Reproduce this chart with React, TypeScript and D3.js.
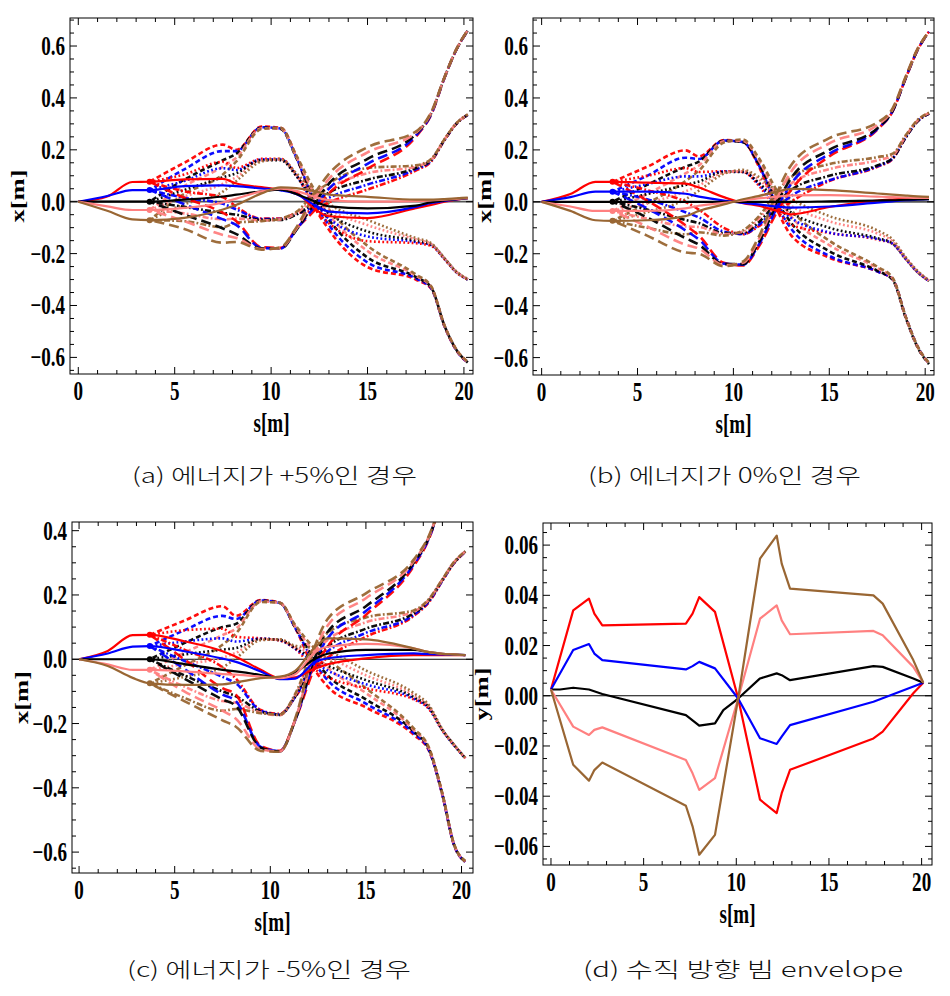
import React from 'react';
import * as d3 from 'd3';

// ---------- shared grids ----------
const S_SOLID = [0, 1.5, 2.8, 3.7, 5.5, 7.5, 8.2, 9.5, 10.5, 11.3, 12.3, 13, 15, 17.5, 18.3, 19, 19.6, 20.2];
const S_RAY = [3.7, 5.5, 7.5, 8.2, 9.5, 10.5, 11.3, 12.3, 13, 15, 17.5, 18.3, 19, 19.6, 20.2];
const COLOR_NAMES = ['red', 'blue', 'black', 'pink', 'brown'];
const COLOR_HEX = ['#ff0000', '#0000ff', '#000000', '#ff8080', '#996633'];

// ---------- panel (a): energy +5% ----------
const aSolid = [
  [0, 0.02, 0.076, 0.077, 0.086, 0.088, 0.07, 0.056, 0.046, 0.035, -0.03, -0.056, -0.063, -0.025, -0.012, 0.0, 0.008, 0.014],
  [0, 0.022, 0.045, 0.045, 0.06, 0.063, 0.06, 0.051, 0.044, 0.03, -0.015, -0.038, -0.045, -0.02, -0.005, 0.003, 0.009, 0.014],
  [0, 0, 0, 0, 0.008, 0.02, 0.027, 0.04, 0.046, 0.03, 0.0, -0.018, -0.026, -0.015, -0.002, 0.005, 0.01, 0.014],
  [0, -0.018, -0.032, -0.032, -0.024, -0.003, 0.012, 0.04, 0.05, 0.042, 0.018, 0.006, 0.0, 0.002, 0.005, 0.008, 0.011, 0.014],
  [0, -0.035, -0.068, -0.071, -0.062, -0.03, -0.012, 0.032, 0.055, 0.052, 0.04, 0.027, 0.019, 0.008, 0.008, 0.01, 0.013, 0.016],
];
const aRay1 = [
  [0.077, 0.15, 0.22, 0.2, 0.29, 0.285, 0.175, -0.025, -0.108, -0.252, -0.3, -0.335, -0.482, -0.572, -0.62],
  [0.045, 0.125, 0.195, 0.195, 0.287, 0.282, 0.172, -0.01, -0.09, -0.234, -0.295, -0.333, -0.481, -0.571, -0.62],
  [0, 0.085, 0.16, 0.185, 0.285, 0.28, 0.17, 0.005, -0.07, -0.215, -0.29, -0.33, -0.48, -0.57, -0.62],
  [-0.032, 0.06, 0.135, 0.17, 0.283, 0.282, 0.175, 0.022, -0.05, -0.19, -0.285, -0.328, -0.479, -0.569, -0.618],
  [-0.071, 0.03, 0.105, 0.155, 0.28, 0.285, 0.18, 0.04, -0.03, -0.17, -0.28, -0.326, -0.478, -0.568, -0.617],
];
const aRay2 = [
  [0.077, 0.105, 0.154, 0.13, 0.165, 0.165, 0.105, -0.03, -0.083, -0.152, -0.16, -0.17, -0.222, -0.272, -0.3],
  [0.045, 0.08, 0.129, 0.122, 0.163, 0.163, 0.102, -0.015, -0.065, -0.134, -0.155, -0.167, -0.221, -0.271, -0.3],
  [0, 0.045, 0.094, 0.11, 0.16, 0.16, 0.1, 0.0, -0.045, -0.115, -0.15, -0.165, -0.22, -0.27, -0.3],
  [-0.032, 0.02, 0.069, 0.095, 0.158, 0.162, 0.105, 0.018, -0.027, -0.09, -0.145, -0.163, -0.219, -0.269, -0.299],
  [-0.071, -0.01, 0.039, 0.08, 0.155, 0.165, 0.11, 0.036, -0.008, -0.07, -0.14, -0.16, -0.218, -0.268, -0.298],
];
const aRay3 = [
  [0.077, 0.04, 0.017, -0.02, -0.065, -0.065, -0.045, -0.03, -0.003, 0.047, 0.12, 0.155, 0.238, 0.299, 0.335],
  [0.045, 0.015, -0.008, -0.03, -0.067, -0.067, -0.048, -0.015, 0.015, 0.066, 0.125, 0.158, 0.239, 0.3, 0.335],
  [0, -0.02, -0.043, -0.05, -0.07, -0.07, -0.05, 0.0, 0.035, 0.085, 0.13, 0.16, 0.24, 0.3, 0.335],
  [-0.032, -0.045, -0.068, -0.065, -0.072, -0.068, -0.045, 0.018, 0.053, 0.11, 0.135, 0.162, 0.241, 0.301, 0.336],
  [-0.071, -0.075, -0.098, -0.08, -0.075, -0.065, -0.04, 0.036, 0.072, 0.13, 0.14, 0.165, 0.242, 0.302, 0.337],
];
const aRay4 = [
  [0.077, 0.015, -0.043, -0.075, -0.175, -0.178, -0.105, -0.03, 0.032, 0.127, 0.25, 0.335, 0.479, 0.585, 0.66],
  [0.045, -0.01, -0.068, -0.09, -0.178, -0.18, -0.108, -0.015, 0.05, 0.146, 0.255, 0.337, 0.48, 0.585, 0.66],
  [0, -0.05, -0.103, -0.125, -0.18, -0.18, -0.11, 0.0, 0.07, 0.165, 0.26, 0.34, 0.48, 0.585, 0.66],
  [-0.032, -0.075, -0.128, -0.14, -0.182, -0.178, -0.105, 0.018, 0.088, 0.19, 0.265, 0.342, 0.481, 0.586, 0.661],
  [-0.071, -0.105, -0.158, -0.155, -0.185, -0.175, -0.1, 0.036, 0.107, 0.21, 0.27, 0.345, 0.482, 0.587, 0.662],
];

// ---------- panel (b): energy 0% ----------
const bSolid = [
  [0, 0.03, 0.077, 0.077, 0.074, 0.07, 0.055, 0.018, -0.005, -0.015, -0.035, -0.048, -0.02, 0.005, 0.009, 0.012, 0.013, 0.014],
  [0, 0.018, 0.039, 0.039, 0.039, 0.031, 0.02, 0.005, -0.004, -0.01, -0.019, -0.022, -0.018, -0.003, 0.002, 0.006, 0.008, 0.01],
  [0, 0, 0, 0, 0, 0, 0, 0, 0, 0, 0, 0, 0.002, 0.005, 0.006, 0.008, 0.009, 0.01],
  [0, -0.018, -0.035, -0.035, -0.035, -0.025, -0.015, -0.004, 0.005, 0.013, 0.02, 0.025, 0.026, 0.02, 0.018, 0.016, 0.015, 0.015],
  [0, -0.035, -0.071, -0.073, -0.071, -0.055, -0.035, -0.01, 0.01, 0.022, 0.04, 0.05, 0.045, 0.032, 0.028, 0.024, 0.021, 0.019],
];
const bRay1 = [
  [0.077, 0.135, 0.198, 0.175, 0.238, 0.232, 0.14, -0.035, -0.128, -0.215, -0.268, -0.298, -0.447, -0.558, -0.623],
  [0.039, 0.1, 0.17, 0.165, 0.236, 0.23, 0.145, -0.019, -0.102, -0.208, -0.268, -0.298, -0.446, -0.557, -0.622],
  [0, 0.065, 0.135, 0.155, 0.235, 0.23, 0.15, 0.0, -0.08, -0.19, -0.265, -0.3, -0.45, -0.56, -0.625],
  [-0.035, 0.03, 0.11, 0.14, 0.233, 0.235, 0.163, 0.02, -0.055, -0.167, -0.255, -0.295, -0.447, -0.558, -0.622],
  [-0.073, -0.006, 0.08, 0.12, 0.228, 0.24, 0.172, 0.04, -0.03, -0.15, -0.25, -0.292, -0.445, -0.556, -0.62],
];
const bRay2 = [
  [0.077, 0.1, 0.13, 0.115, 0.118, 0.115, 0.065, -0.035, -0.088, -0.12, -0.145, -0.162, -0.222, -0.271, -0.305],
  [0.039, 0.068, 0.098, 0.098, 0.117, 0.115, 0.07, -0.019, -0.062, -0.118, -0.143, -0.161, -0.221, -0.27, -0.305],
  [0, 0.03, 0.065, 0.078, 0.115, 0.115, 0.075, 0.0, -0.04, -0.1, -0.14, -0.16, -0.22, -0.27, -0.305],
  [-0.035, -0.005, 0.04, 0.063, 0.112, 0.118, 0.088, 0.02, -0.015, -0.075, -0.122, -0.152, -0.218, -0.268, -0.303],
  [-0.073, -0.04, 0.01, 0.043, 0.108, 0.123, 0.097, 0.04, 0.01, -0.055, -0.11, -0.145, -0.215, -0.266, -0.302],
];
const bRay3 = [
  [0.077, 0.045, 0.0, -0.03, -0.1, -0.125, -0.095, -0.035, 0.0, 0.08, 0.135, 0.165, 0.25, 0.31, 0.34],
  [0.039, 0.01, -0.04, -0.06, -0.115, -0.124, -0.09, -0.019, 0.022, 0.083, 0.137, 0.167, 0.25, 0.31, 0.34],
  [0, -0.03, -0.07, -0.082, -0.12, -0.12, -0.08, 0.0, 0.045, 0.1, 0.14, 0.168, 0.25, 0.31, 0.34],
  [-0.035, -0.065, -0.095, -0.097, -0.124, -0.115, -0.067, 0.02, 0.07, 0.126, 0.16, 0.178, 0.255, 0.313, 0.342],
  [-0.073, -0.1, -0.125, -0.117, -0.13, -0.11, -0.058, 0.04, 0.095, 0.145, 0.172, 0.185, 0.258, 0.315, 0.343],
];
const bRay4 = [
  [0.077, 0.005, -0.09, -0.13, -0.235, -0.245, -0.175, -0.035, 0.045, 0.175, 0.278, 0.348, 0.479, 0.584, 0.655],
  [0.039, -0.025, -0.11, -0.145, -0.238, -0.242, -0.168, -0.019, 0.068, 0.185, 0.28, 0.349, 0.48, 0.585, 0.655],
  [0, -0.06, -0.14, -0.165, -0.24, -0.24, -0.16, 0.0, 0.09, 0.2, 0.283, 0.35, 0.48, 0.585, 0.655],
  [-0.035, -0.095, -0.165, -0.18, -0.244, -0.235, -0.147, 0.02, 0.115, 0.225, 0.295, 0.356, 0.483, 0.587, 0.656],
  [-0.073, -0.13, -0.195, -0.2, -0.248, -0.23, -0.138, 0.04, 0.14, 0.245, 0.305, 0.36, 0.486, 0.589, 0.657],
];

// ---------- panel (c): energy -5% ----------
const cSolid = [
  [0, 0.026, 0.075, 0.076, 0.056, 0.025, 0.008, -0.033, -0.059, -0.056, -0.03, -0.016, 0.003, 0.013, 0.013, 0.013, 0.013, 0.013],
  [0, 0.018, 0.039, 0.041, 0.025, 0.002, -0.008, -0.038, -0.062, -0.06, -0.01, 0.003, 0.013, 0.018, 0.016, 0.015, 0.014, 0.013],
  [0, 0, 0, 0, -0.015, -0.033, -0.038, -0.049, -0.059, -0.042, 0.0, 0.017, 0.029, 0.029, 0.022, 0.017, 0.015, 0.013],
  [0, -0.016, -0.033, -0.033, -0.038, -0.046, -0.048, -0.054, -0.059, -0.047, 0.02, 0.039, 0.048, 0.034, 0.022, 0.017, 0.015, 0.013],
  [0, -0.021, -0.058, -0.075, -0.08, -0.078, -0.072, -0.059, -0.054, -0.036, 0.035, 0.065, 0.062, 0.034, 0.022, 0.017, 0.015, 0.013],
];
const cRay1 = [
  [0.076, 0.12, 0.165, 0.135, 0.184, 0.176, 0.098, -0.03, -0.085, -0.15, -0.235, -0.285, -0.423, -0.577, -0.63],
  [0.041, 0.09, 0.135, 0.125, 0.183, 0.175, 0.098, -0.01, -0.065, -0.138, -0.23, -0.283, -0.422, -0.576, -0.63],
  [0, 0.05, 0.1, 0.11, 0.182, 0.175, 0.1, 0.0, -0.05, -0.125, -0.225, -0.28, -0.42, -0.575, -0.63],
  [-0.033, 0.02, 0.075, 0.095, 0.18, 0.175, 0.103, 0.02, -0.025, -0.105, -0.22, -0.278, -0.419, -0.574, -0.629],
  [-0.075, -0.02, 0.045, 0.08, 0.178, 0.176, 0.107, 0.035, 0.0, -0.09, -0.215, -0.275, -0.418, -0.573, -0.628],
];
const cRay2 = [
  [0.076, 0.09, 0.095, 0.07, 0.065, 0.058, 0.033, -0.03, -0.055, -0.09, -0.125, -0.155, -0.222, -0.267, -0.308],
  [0.041, 0.055, 0.065, 0.055, 0.064, 0.059, 0.033, -0.01, -0.035, -0.078, -0.122, -0.153, -0.221, -0.267, -0.308],
  [0, 0.015, 0.03, 0.035, 0.063, 0.06, 0.035, 0.0, -0.02, -0.065, -0.118, -0.15, -0.22, -0.266, -0.308],
  [-0.033, -0.015, 0.005, 0.02, 0.061, 0.061, 0.038, 0.02, 0.005, -0.05, -0.112, -0.147, -0.219, -0.265, -0.307],
  [-0.075, -0.055, -0.025, 0.003, 0.059, 0.062, 0.042, 0.035, 0.025, -0.035, -0.105, -0.143, -0.218, -0.265, -0.307],
];
const cRay3 = [
  [0.076, 0.03, -0.025, -0.06, -0.158, -0.17, -0.118, -0.03, 0.005, 0.07, 0.135, 0.178, 0.244, 0.298, 0.334],
  [0.041, -0.005, -0.055, -0.075, -0.16, -0.172, -0.117, -0.01, 0.025, 0.082, 0.138, 0.18, 0.245, 0.299, 0.334],
  [0, -0.05, -0.1, -0.115, -0.163, -0.173, -0.116, 0.0, 0.04, 0.095, 0.143, 0.184, 0.247, 0.3, 0.335],
  [-0.033, -0.085, -0.13, -0.135, -0.166, -0.174, -0.112, 0.02, 0.06, 0.115, 0.148, 0.186, 0.248, 0.301, 0.336],
  [-0.075, -0.12, -0.16, -0.155, -0.168, -0.172, -0.108, 0.035, 0.082, 0.13, 0.152, 0.188, 0.249, 0.302, 0.336],
];
const cRay4 = [
  [0.076, 0.0, -0.09, -0.11, -0.27, -0.285, -0.19, -0.03, 0.04, 0.138, 0.29, 0.375, 0.5, 0.6, 0.66],
  [0.041, -0.03, -0.11, -0.13, -0.273, -0.286, -0.19, -0.01, 0.065, 0.15, 0.295, 0.377, 0.5, 0.6, 0.66],
  [0, -0.06, -0.125, -0.145, -0.275, -0.287, -0.19, 0.0, 0.085, 0.165, 0.3, 0.38, 0.5, 0.6, 0.66],
  [-0.033, -0.1, -0.16, -0.185, -0.28, -0.287, -0.188, 0.02, 0.105, 0.19, 0.305, 0.382, 0.5, 0.6, 0.66],
  [-0.075, -0.13, -0.19, -0.21, -0.285, -0.288, -0.185, 0.035, 0.125, 0.205, 0.31, 0.385, 0.5, 0.6, 0.66],
];

// ---------- panel (d): vertical beam envelope [s, y] ----------
const dRed = [[0, 0.0025], [1.2, 0.034], [2.05, 0.0387], [2.34, 0.0327], [2.77, 0.028], [7.28, 0.0287], [7.64, 0.0327], [8.0, 0.0393], [8.85, 0.0334], [10.1, -0.001], [11.28, -0.0414], [12.18, -0.0467], [12.45, -0.0388], [12.9, -0.0295], [17.4, -0.017], [17.9, -0.0143], [19.55, 0.001], [20.09, 0.0052]];
const dBlue = [[0, 0.0025], [1.2, 0.0182], [2.05, 0.0206], [2.34, 0.0168], [2.77, 0.0142], [7.28, 0.0105], [7.64, 0.0118], [8.0, 0.0135], [8.85, 0.0109], [10.1, -0.0011], [11.28, -0.0169], [12.18, -0.0192], [12.45, -0.0163], [12.9, -0.0117], [17.4, -0.0024], [20.09, 0.0052]];
const dBlack = [[0, 0.0025], [0.49, 0.0025], [1.2, 0.0032], [2.05, 0.0025], [2.77, 0.0007], [7.28, -0.0077], [8.0, -0.0119], [8.85, -0.011], [9.3, -0.0057], [10.1, -0.0011], [11.28, 0.0069], [12.18, 0.0089], [12.45, 0.0082], [12.9, 0.0062], [17.4, 0.0118], [17.9, 0.0115], [19.55, 0.0069], [20.09, 0.0052]];
const dPink = [[0, 0.0025], [1.2, -0.0123], [2.05, -0.0156], [2.34, -0.0136], [2.77, -0.0126], [7.28, -0.0256], [7.64, -0.0309], [8.0, -0.0375], [8.85, -0.0328], [10.1, -0.0011], [11.28, 0.0307], [12.18, 0.036], [12.45, 0.03], [12.9, 0.0245], [17.4, 0.0258], [17.9, 0.0241], [19.55, 0.0115], [20.09, 0.0052]];
const dBrown = [[0, 0.0025], [1.2, -0.0275], [2.05, -0.0338], [2.34, -0.0296], [2.77, -0.0266], [7.28, -0.0438], [7.64, -0.052], [8.0, -0.0633], [8.85, -0.0554], [10.1, -0.0011], [11.28, 0.0546], [12.18, 0.0638], [12.45, 0.0526], [12.9, 0.0427], [17.4, 0.04], [17.9, 0.0367], [19.55, 0.0142], [20.09, 0.0052]];

// ---------- ticks & labels ----------
const X_TICKS = [0, 5, 10, 15, 20];
const X_TICK_LABELS = ['0', '5', '10', '15', '20'];
const Y_TICKS_AB = [-0.6, -0.4, -0.2, 0, 0.2, 0.4, 0.6];
const Y_LABELS_AB = ['\u22120.6', '\u22120.4', '\u22120.2', '0.0', '0.2', '0.4', '0.6'];
const Y_TICKS_C = [-0.6, -0.4, -0.2, 0, 0.2, 0.4];
const Y_LABELS_C = ['\u22120.6', '\u22120.4', '\u22120.2', '0.0', '0.2', '0.4'];
const Y_TICKS_D = [-0.06, -0.04, -0.02, 0, 0.02, 0.04, 0.06];
const Y_LABELS_D = ['\u22120.06', '\u22120.04', '\u22120.02', '0.00', '0.02', '0.04', '0.06'];
const CAPTIONS = ['(a) 에너지가 +5%인 경우', '(b) 에너지가 0%인 경우', '(c) 에너지가 -5%인 경우', '(d) 수직 방향 빔 envelope'];

// ---------- styling (not data) ----------
const RAY_DASH = ['5,3', '1.8,2.4', '6,2.2,1.8,2.2', '10,5'];
const SERIF = "'Liberation Serif', 'DejaVu Serif', serif";
const SX = 0.72;
const FS = 26.5;

type PanelProps = {
  id: string; left: number; right: number; top: number; bottom: number;
  xDom: [number, number]; yDom: [number, number];
  yTicks: number[]; yLabels: string[]; yMinor: number; yTitle: string; yTitleX: number;
  zeroColor: string; zeroWidth: number;
  solids?: number[][]; rays?: number[][][]; env?: number[][][];
  caption: string; capX: number; capW: number; capY: number;
};

function Panel(p: PanelProps) {
  const x = d3.scaleLinear().domain(p.xDom).range([p.left, p.right]);
  const y = d3.scaleLinear().domain(p.yDom).range([p.bottom, p.top]);
  const smooth = d3.line<[number, number]>().x(d => x(d[0])).y(d => y(d[1])).curve(d3.curveMonotoneX);
  const straight = d3.line<number[]>().x(d => x(d[0])).y(d => y(d[1]));
  const clipId = 'clip-' + p.id;
  const xMinor = d3.range(0, 21, 1);
  const yMinor = d3.range(Math.ceil(p.yDom[0] / p.yMinor) * p.yMinor, p.yDom[1], p.yMinor);
  const tickEls: React.ReactNode[] = [];
  xMinor.forEach((v, i) => {
    const major = v % 5 === 0;
    const L = major ? 7 : 4;
    tickEls.push(<line key={'xb' + i} x1={x(v)} x2={x(v)} y1={p.bottom} y2={p.bottom - L} stroke="#000" strokeWidth={1} />);
    tickEls.push(<line key={'xt' + i} x1={x(v)} x2={x(v)} y1={p.top} y2={p.top + L} stroke="#000" strokeWidth={1} />);
  });
  yMinor.forEach((v, i) => {
    const major = p.yTicks.some(t => Math.abs(t - v) < 1e-9);
    const L = major ? 7 : 4;
    tickEls.push(<line key={'yl' + i} x1={p.left} x2={p.left + L} y1={y(v)} y2={y(v)} stroke="#000" strokeWidth={1} />);
    tickEls.push(<line key={'yr' + i} x1={p.right} x2={p.right - L} y1={y(v)} y2={y(v)} stroke="#000" strokeWidth={1} />);
  });
  const cy = (p.top + p.bottom) / 2;
  const cx = (p.left + p.right) / 2;
  return (
    <g>
      <defs>
        <clipPath id={clipId}><rect x={p.left} y={p.top} width={p.right - p.left} height={p.bottom - p.top} /></clipPath>
      </defs>
      <g clipPath={`url(#${clipId})`}>
        <line x1={p.left} x2={p.right} y1={y(0)} y2={y(0)} stroke={p.zeroColor} strokeWidth={p.zeroWidth} />
        {p.rays && p.rays.map((fam, fi) => fam.map((vals, ci) => (
          <path key={`r${fi}-${ci}`} d={smooth(S_RAY.map((s, k) => [s, vals[k]] as [number, number])) || ''}
            fill="none" stroke={COLOR_HEX[ci]} strokeWidth={2.6} strokeDasharray={RAY_DASH[fi]}
            strokeDashoffset={ci * 2.5} opacity={0.95} />
        )))}
        {p.solids && p.solids.map((vals, ci) => (
          <path key={'s' + ci} d={smooth(S_SOLID.map((s, k) => [s, vals[k]] as [number, number])) || ''}
            fill="none" stroke={COLOR_HEX[ci]} strokeWidth={2.2} />
        ))}
        {p.solids && p.solids.map((vals, ci) => (
          <circle key={'m' + ci} cx={x(S_SOLID[3])} cy={y(vals[3])} r={3} fill={COLOR_HEX[ci]} />
        ))}
        {p.env && p.env.map((pts, ci) => (
          <path key={'e' + ci} d={straight(pts) || ''} fill="none" stroke={COLOR_HEX[ci]} strokeWidth={2.2} strokeLinejoin="round" />
        ))}
      </g>
      <rect x={p.left} y={p.top} width={p.right - p.left} height={p.bottom - p.top} fill="none" stroke="#000" strokeWidth={1} />
      {tickEls}
      {X_TICKS.map((v, i) => (
        <text key={'xl' + i} transform={`translate(${x(v)},${p.bottom + 26}) scale(${SX},1)`} textAnchor="middle"
          fontFamily={SERIF} fontWeight="bold" fontSize={FS} fill="#000">{X_TICK_LABELS[i]}</text>
      ))}
      {p.yTicks.map((v, i) => (
        <text key={'yl' + i} transform={`translate(${p.left - 5},${y(v) + 9}) scale(${SX},1)`} textAnchor="end"
          fontFamily={SERIF} fontWeight="bold" fontSize={FS} fill="#000">{p.yLabels[i]}</text>
      ))}
      <text transform={`translate(${cx},${p.bottom + 58}) scale(${SX},1)`} textAnchor="middle"
        fontFamily={SERIF} fontWeight="bold" fontSize={FS} fill="#000">s[m]</text>
      <text transform={`translate(${p.yTitleX + 6},${cy}) rotate(-90) scale(1,${SX})`} textAnchor="middle"
        fontFamily={SERIF} fontWeight="bold" fontSize={FS} fill="#000">{p.yTitle}</text>
      <text x={p.capX} y={p.capY} textLength={p.capW} lengthAdjust="spacingAndGlyphs"
        fontFamily="'Noto Sans CJK KR', sans-serif" fontWeight={300} fontSize={21} fill="#111">{p.caption}</text>
    </g>
  );
}

export default function App() {
  return (
    <svg width={950} height={996} style={{ position: 'absolute', left: 0, top: 0, background: '#fff' }}>
      <rect x={0} y={0} width={950} height={996} fill="#fff" />
      <Panel id="a" left={70} right={473} top={18} bottom={374} xDom={[-0.43, 20.47]} yDom={[-0.664, 0.708]}
        yTicks={Y_TICKS_AB} yLabels={Y_LABELS_AB} yMinor={0.05} yTitle="x[m]" yTitleX={18}
        zeroColor="#555" zeroWidth={1.8}
        solids={aSolid} rays={[aRay1, aRay2, aRay3, aRay4]}
        caption={CAPTIONS[0]} capX={132} capW={285} capY={483} />
      <Panel id="b" left={533} right={934} top={18} bottom={375} xDom={[-0.45, 20.46]} yDom={[-0.667, 0.708]}
        yTicks={Y_TICKS_AB} yLabels={Y_LABELS_AB} yMinor={0.05} yTitle="x[m]" yTitleX={485}
        zeroColor="#555" zeroWidth={1.8}
        solids={bSolid} rays={[bRay1, bRay2, bRay3, bRay4]}
        caption={CAPTIONS[1]} capX={588} capW={273} capY={483} />
      <Panel id="c" left={72} right={473} top={522} bottom={873} xDom={[-0.37, 20.6]} yDom={[-0.665, 0.427]}
        yTicks={Y_TICKS_C} yLabels={Y_LABELS_C} yMinor={0.05} yTitle="x[m]" yTitleX={22}
        zeroColor="#000" zeroWidth={1}
        solids={cSolid} rays={[cRay1, cRay2, cRay3, cRay4]}
        caption={CAPTIONS[2]} capX={127} capW={284} capY={977} />
      <Panel id="d" left={543} right={932} top={523} bottom={865} xDom={[-0.43, 20.56]} yDom={[-0.0674, 0.0688]}
        yTicks={Y_TICKS_D} yLabels={Y_LABELS_D} yMinor={0.005} yTitle="y[m]" yTitleX={482}
        zeroColor="#000" zeroWidth={1}
        env={[dRed, dBlue, dBlack, dPink, dBrown]}
        caption={CAPTIONS[3]} capX={583} capW={320} capY={977} />
    </svg>
  );
}
